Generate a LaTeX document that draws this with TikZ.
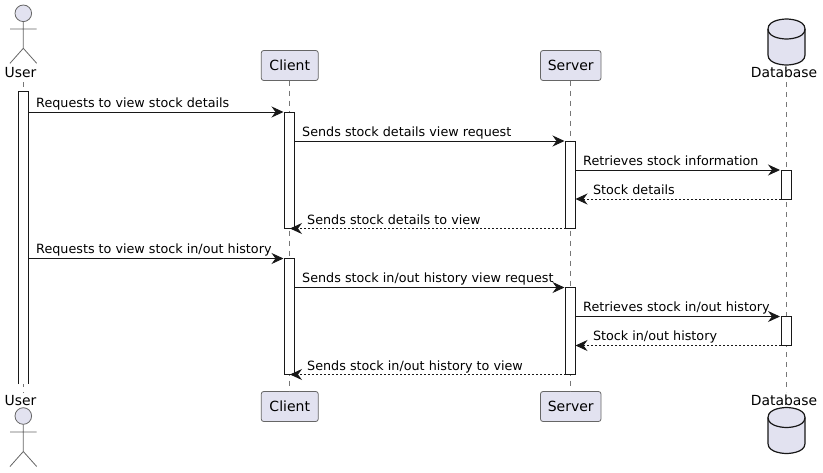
\documentclass[tikz,border=0pt]{standalone}
\usepackage{fontspec}
\setmainfont{DejaVu Sans}
\usetikzlibrary{arrows.meta}
\definecolor{pfill}{HTML}{E2E2F0}
\definecolor{pline}{HTML}{666666}
\definecolor{lifec}{HTML}{777777}
\definecolor{ink}{HTML}{181818}
\tikzset{
  x=1pt,y=-1pt,
  part/.style={draw=pline,fill=pfill,line width=0.8pt,rounded corners=2.5pt,minimum height=30pt,inner sep=0pt,outer sep=0pt,font=\fontsize{14}{14}\selectfont},
  name label/.style={inner sep=0pt,font=\fontsize{13.9}{14}\selectfont,anchor=base},
  life/.style={draw=lifec,line width=0.6pt,dash pattern=on 5pt off 5pt},
  bar/.style={draw=ink,fill=white,line width=0.9pt,minimum width=10pt,inner sep=0pt,outer sep=0pt,anchor=north},
  msg/.style={draw=ink,line width=0.9pt,-{Stealth[length=12pt,width=11pt,inset=4pt]}},
  ret/.style={msg,dash pattern=on 2pt off 2pt},
  txt/.style={inner sep=0pt,anchor=base west,font=\fontsize{12.75}{13}\selectfont},
  actorline/.style={draw=pline,line width=0.8pt,fill=pfill},
  dbshape/.style={draw=ink,line width=1.2pt,fill=pfill},
}
\begin{document}
\begin{tikzpicture}
\useasboundingbox[fill=white] (0,0) rectangle (823,472);
% participants
\node[name label] (utop) at (20.5,77) {User};
\node[name label] (ubot) at (20.5,405) {User};
\node[part,minimum width=57pt] (ctop) at (289.75,65.5) {Client};
\node[part,minimum width=57pt] (cbot) at (289.75,406.5) {Client};
\node[part,minimum width=60.5pt] (stop) at (570.75,65.5) {Server};
\node[part,minimum width=60.5pt] (sbot) at (570.75,406.5) {Server};
\node[name label] (dtop) at (784,77) {Database};
\node[name label] (dbot) at (784,405) {Database};
\coordinate (ulifetop) at (23.3,82);
\coordinate (ulifebot) at (23.3,393);
\coordinate (dlifetop) at (786.3,82);
\coordinate (dlifebot) at (786.3,392);
% lifelines
\draw[life] (ulifetop) -- (ulifebot);
\draw[life] (ctop.south) -- (cbot.north);
\draw[life] (stop.south) -- (sbot.north);
\draw[life] (dlifetop) -- (dlifebot);
% actors
\draw[actorline] (23.3,13.3) circle (8.3);
\draw[actorline,fill=none] (23.3,21.6) -- (23.3,48.3) (10,29) -- (36.7,29) (10,63.3) -- (23.3,48.3) -- (36.7,63.3);
\draw[actorline] (23.3,416) circle (8.3);
\draw[actorline,fill=none] (23.3,424.3) -- (23.3,451.5) (10,432) -- (36.7,432) (10,466.5) -- (23.3,451.5) -- (36.7,466.5);
% databases
\draw[dbshape] (768,29) .. controls (768,19) and (786.5,19) .. (786.5,19) .. controls (786.5,19) and (805,19) .. (805,29) -- (805,55) .. controls (805,65) and (786.5,65) .. (786.5,65) .. controls (786.5,65) and (768,65) .. (768,55) -- cycle;
\draw[dbshape,fill=none] (768,29) .. controls (768,39) and (786.5,39) .. (786.5,39) .. controls (786.5,39) and (805,39) .. (805,29);
\draw[dbshape] (768,417.5) .. controls (768,407.5) and (786.5,407.5) .. (786.5,407.5) .. controls (786.5,407.5) and (805,407.5) .. (805,417.5) -- (805,443.5) .. controls (805,453.5) and (786.5,453.5) .. (786.5,453.5) .. controls (786.5,453.5) and (768,453.5) .. (768,443.5) -- cycle;
\draw[dbshape,fill=none] (768,417.5) .. controls (768,427.5) and (786.5,427.5) .. (786.5,427.5) .. controls (786.5,427.5) and (805,427.5) .. (805,417.5);
% activation bars
\fill[white] (18.5,91.5) rectangle (28.5,384);
\draw[ink,line width=0.9pt] (18.5,384) -- (18.5,91.5) -- (28.5,91.5) -- (28.5,384);
\coordinate (ubar) at (28.5,91.5);
\node[bar,minimum height=116.5pt] (c1) at (289.5,112) {};
\node[bar,minimum height=116pt] (c2) at (289.5,258.5) {};
\node[bar,minimum height=87.5pt] (s1) at (570.5,141) {};
\node[bar,minimum height=87pt] (s2) at (570.5,287.5) {};
\node[bar,minimum height=29pt] (d1) at (786,170) {};
\node[bar,minimum height=29pt] (d2) at (786,316.5) {};
% messages
\draw[msg] (ubar |- c1.north) -- ([xshift=-1pt]c1.north west);
\draw[msg] (c1.east |- s1.north) -- ([xshift=-1pt]s1.north west);
\draw[msg] (s1.east |- d1.north) -- ([xshift=-1pt]d1.north west);
\draw[ret] (d1.south west) -- (s1.east |- d1.south);
\draw[ret] (s1.south west) -- ([xshift=-4.5pt]c1.south east);
\draw[msg] (ubar |- c2.north) -- ([xshift=-1pt]c2.north west);
\draw[msg] (c2.east |- s2.north) -- ([xshift=-1pt]s2.north west);
\draw[msg] (s2.east |- d2.north) -- ([xshift=-1pt]d2.north west);
\draw[ret] (d2.south west) -- (s2.east |- d2.south);
\draw[ret] (s2.south west) -- ([xshift=-4.5pt]c2.south east);
% labels
\node[txt] (t1) at (36,107) {Requests to view stock details};
\node[txt] (t2) at (302,136) {Sends stock details view request};
\node[txt] (t3) at (583,165.5) {Retrieves stock information};
\node[txt] (t4) at (592.8,194.5) {Stock details};
\node[txt] (t5) at (307,224) {Sends stock details to view};
\node[txt] (t6) at (36,253) {Requests to view stock in/out history};
\node[txt] (t7) at (302,282) {Sends stock in/out history view request};
\node[txt] (t8) at (583,311.5) {Retrieves stock in/out history};
\node[txt] (t9) at (592.8,340.5) {Stock in/out history};
\node[txt] (t10) at (307,370) {Sends stock in/out history to view};
\end{tikzpicture}
\end{document}
